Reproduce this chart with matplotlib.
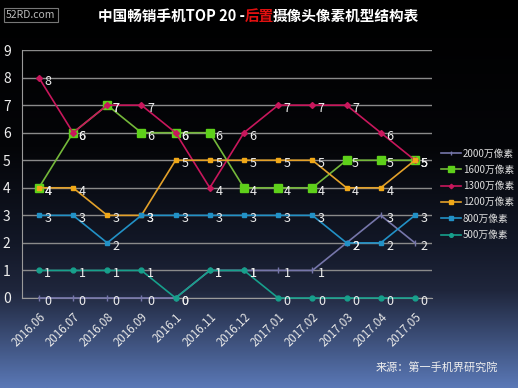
import matplotlib
matplotlib.use("Agg")
import matplotlib.pyplot as plt
import numpy as np
from matplotlib.colors import LinearSegmentedColormap

plt.rcParams['font.family'] = ['Noto Sans CJK SC', 'DejaVu Sans']

months = ['2016.06', '2016.07', '2016.08', '2016.09', '2016.1', '2016.11',
          '2016.12', '2017.01', '2017.02', '2017.03', '2017.04', '2017.05']

px_2000 = [0, 0, 0, 0, 0, 1, 1, 1, 1, 2, 3, 2]
px_1600 = [4, 6, 7, 6, 6, 6, 4, 4, 4, 5, 5, 5]
px_1300 = [8, 6, 7, 7, 6, 4, 6, 7, 7, 7, 6, 5]
px_1200 = [4, 4, 3, 3, 5, 5, 5, 5, 5, 4, 4, 5]
px_800 = [3, 3, 2, 3, 3, 3, 3, 3, 3, 2, 2, 3]
px_500 = [1, 1, 1, 1, 0, 1, 1, 0, 0, 0, 0, 0]

series_names = ['2000万像素', '1600万像素', '1300万像素', '1200万像素', '800万像素', '500万像素']

fig = plt.figure(figsize=(5.18, 3.88), dpi=100)

# fondo degradado negro -> azul
bg = fig.add_axes([0, 0, 1, 1], zorder=-10)
cmap = LinearSegmentedColormap.from_list('bg', [
    (0.0, '#000000'), (0.38, '#040508'), (0.62, '#121726'),
    (0.75, '#1f263c'), (1.0, '#5a78b6')])
grad = np.linspace(0, 1, 256).reshape(-1, 1)
bg.imshow(grad, cmap=cmap, aspect='auto', extent=[0, 1, 1, 0])
bg.axis('off')

ax = fig.add_axes([0.042, 0.232, 0.792, 0.639])
ax.set_facecolor('none')

x = np.arange(len(months))
styles = [
    (px_2000, '#7676aa', '#7676aa', '|', 4),
    (px_1600, '#74b83a', '#5ed01a', 's', 5.5),
    (px_1300, '#c8175c', '#c8175c', 'D', 3),
    (px_1200, '#e3a12a', '#f0a818', 's', 3.5),
    (px_800, '#2291c6', '#2291c6', 's', 3.5),
    (px_500, '#17a08c', '#17a08c', 'o', 3.5),
]
for (vals, lc, mc, mk, ms), name in zip(styles, series_names):
    ax.plot(x, vals, color=lc, lw=1.2, marker=mk, markersize=ms,
            markerfacecolor=mc, markeredgecolor=mc, label=name, zorder=3,
            clip_on=False)
    for xi, v in zip(x, vals):
        ax.annotate(str(v), (xi, v), xytext=(4, -2.5), textcoords='offset points',
                    color='#eeeeee', fontsize=9, va='center', ha='left', zorder=4)

ax.set_xlim(-0.5, 11.5)
ax.set_ylim(0, 9)
ax.set_yticks(range(10))
ax.set_xticks(x)
ax.set_xticklabels(months, rotation=45, ha='right', rotation_mode='anchor',
                   fontsize=8.3, color='#e6e6e6')
ax.tick_params(axis='y', length=0, pad=8, labelsize=10, labelcolor='#eeeeee')
ax.tick_params(axis='x', length=0, pad=9)
ax.grid(axis='y', color='#8a8a8a', lw=1)
for s in ['top', 'right']:
    ax.spines[s].set_visible(False)
ax.spines['left'].set_color('#9a9a9a')
ax.spines['bottom'].set_color('#9a9a9a')

leg = fig.legend(loc='upper left', bbox_to_anchor=(0.835, 0.64), frameon=False,
                 fontsize=7, labelcolor='#dddddd', handlelength=2.0,
                 labelspacing=0.65, handletextpad=0.2, markerscale=0.75)

fig.text(0.19, 0.958, '中国畅销手机TOP 20 -', color='white', fontsize=10.5,
         fontweight='bold', va='center', ha='left')
fig.text(0.472, 0.958, '后置', color='#e01010', fontsize=10.5,
         fontweight='bold', va='center', ha='left')
fig.text(0.527, 0.958, '摄像头像素机型结构表', color='white', fontsize=10.5,
         fontweight='bold', va='center', ha='left')

fig.text(0.012, 0.962, '52RD.com', color='#bbbbbb', fontsize=7.5, va='center',
         ha='left', bbox=dict(facecolor='none', edgecolor='#777777', pad=1.5, lw=0.8))

fig.text(0.962, 0.053, '来源：第一手机界研究院', color='#eeeeee', fontsize=8,
         va='center', ha='right')

fig.savefig('out.png', dpi=100)
